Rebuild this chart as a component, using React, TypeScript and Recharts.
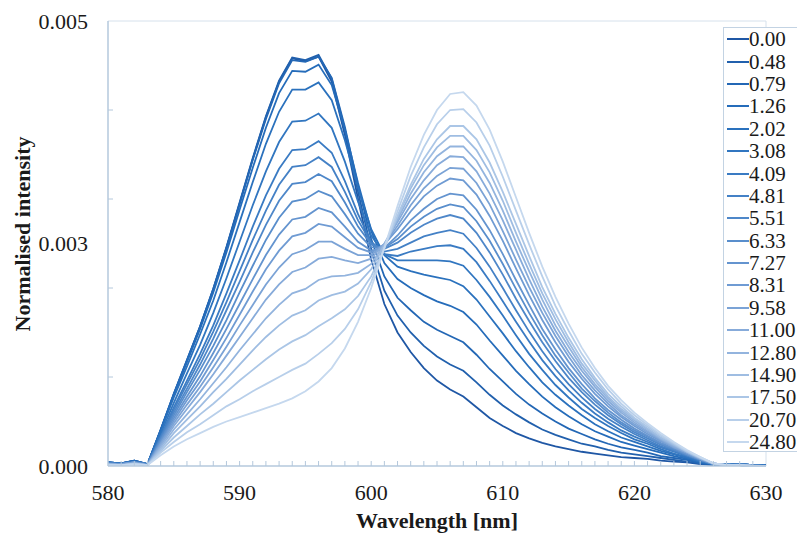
import React from 'react';
import { LineChart, Line, XAxis, YAxis, ReferenceLine } from 'recharts';

// Wavelength grid [nm]
const WAVELENGTHS = [
  580, 581, 582, 583, 584, 585, 586, 587, 588, 589, 590, 591, 592, 593, 594, 595, 596,
  597, 598, 599, 600, 601, 602, 603, 604, 605, 606, 607, 608, 609, 610, 611, 612, 613,
  614, 615, 616, 617, 618, 619, 620, 621, 622, 623, 624, 625, 626, 627, 628, 629, 630,
];

// Legend labels (one per series)
const LEGEND_LABELS = [
  '0.00', '0.48', '0.79', '1.26', '2.02', '3.08', '4.09', '4.81', '5.51', '6.33',
  '7.27', '8.31', '9.58', '11.00', '12.80', '14.90', '17.50', '20.70', '24.80',
];

// Intensities in units of 1e-5 (normalised intensity)
const INTENSITY_UNIT = 1e-5;
const I_0_00 = [4,3,6,2,40,80,118,156,198,245,295,345,392,432,458,455,460,432,372,300,232,182,150,128,110,96,86,78,66,54,45,37,31,26,22,19,16,14,12,10,9,8,6,5,4,2,1,1,2,1,1];
const I_0_48 = [4,3,6,2,40,81,119,157,199,246,296,346,393,433,459,456,462,435,378,308,244,197,169,150,135,123,114,107,94,80,68,58,49,41,35,30,25,22,18,15,13,11,9,7,5,3,1,1,2,1,1];
const I_0_79 = [4,3,6,2,41,81,119,157,199,245,294,344,390,430,456,454,460,436,381,315,255,213,189,175,162,153,146,139,125,109,95,81,69,59,50,42,36,30,25,21,18,15,11,9,7,3,2,1,2,1,1];
const I_1_26 = [4,3,6,2,40,80,117,154,195,240,288,335,380,419,444,443,451,428,378,318,264,228,210,200,192,185,180,173,159,141,124,107,92,78,66,56,47,39,33,27,23,19,15,11,8,4,2,2,2,1,1];
const I_2_02 = [4,3,5,2,39,77,112,148,186,229,274,319,362,398,423,423,431,411,366,313,266,237,224,219,215,212,209,202,187,168,149,129,111,94,80,68,57,47,39,32,27,22,17,13,9,5,2,1,2,1,1];
const I_3_08 = [4,3,5,2,36,71,104,136,172,211,252,293,331,364,387,388,396,380,342,297,259,238,231,231,231,231,230,225,209,190,169,147,126,108,91,77,64,54,45,37,30,25,19,14,10,5,2,1,2,1,1];
const I_4_09 = [3,3,5,2,33,66,96,126,158,194,231,269,304,334,355,356,365,352,320,283,252,238,236,241,244,247,248,244,229,208,185,162,140,119,101,85,71,59,49,40,33,27,21,16,11,6,2,1,2,1,0];
const I_4_81 = [3,2,5,2,32,63,92,120,151,184,219,254,287,316,336,338,347,336,308,276,251,241,244,251,258,262,265,261,245,224,200,175,151,129,109,92,77,64,53,44,36,29,22,17,12,6,2,1,2,1,0];
const I_5_51 = [3,2,4,2,31,60,87,114,143,175,207,240,271,298,317,319,328,320,296,269,249,244,251,262,271,278,282,278,262,240,215,188,163,139,118,99,83,69,57,47,38,31,24,18,12,7,2,1,2,1,0];
const I_6_33 = [3,2,4,2,29,57,83,108,135,164,195,225,254,279,297,300,309,303,283,261,246,245,255,269,280,289,294,291,275,253,227,199,172,147,124,105,87,73,60,49,40,33,25,19,13,7,2,1,1,1,0];
const I_7_27 = [3,2,4,1,28,54,78,101,127,154,182,210,237,260,277,280,290,285,269,252,242,245,259,276,289,300,306,304,288,265,238,209,181,154,131,110,92,76,63,52,42,34,26,20,13,7,2,1,1,0,0];
const I_8_31 = [2,2,4,1,26,51,74,95,119,144,170,196,221,242,258,262,272,269,257,245,240,249,266,286,303,315,323,321,305,281,253,222,192,164,139,117,98,81,67,55,45,36,28,21,14,8,2,1,1,0,0];
const I_9_58 = [2,2,4,1,25,48,69,89,111,134,158,181,204,223,238,243,252,252,244,237,237,249,270,293,312,326,335,334,318,294,264,232,201,172,146,123,102,85,70,57,47,38,29,21,15,8,3,1,1,0,0];
const I_11_00 = [2,1,3,1,23,45,64,83,103,124,145,166,187,204,218,223,233,235,231,228,233,250,274,300,321,338,348,347,331,306,276,243,210,179,152,128,107,89,73,60,49,39,30,22,15,8,3,1,1,0,0];
const I_12_80 = [2,1,3,1,21,41,58,75,93,111,130,148,166,181,194,199,209,213,214,217,227,249,277,306,330,348,359,359,343,318,287,252,219,187,158,134,111,92,76,62,51,41,31,23,16,9,3,1,1,0,0];
const I_14_90 = [2,1,3,1,19,37,52,67,83,98,114,130,145,158,169,175,186,192,196,205,221,248,280,312,338,358,371,371,355,330,298,262,227,194,165,139,115,96,78,64,53,42,32,24,16,9,3,1,1,0,0];
const I_17_50 = [1,1,2,1,17,32,45,58,70,83,96,108,120,131,140,147,157,166,176,191,213,245,281,316,345,367,382,382,367,341,308,272,236,201,171,144,120,99,81,67,54,44,34,25,16,9,3,1,1,0,0];
const I_20_70 = [1,1,2,1,15,27,38,47,57,67,75,84,92,100,108,115,126,138,154,176,207,245,286,326,358,384,400,401,386,360,325,287,249,213,180,152,126,105,86,70,57,46,35,26,17,10,3,1,1,0,0];
const I_24_80 = [1,1,2,1,12,22,30,37,44,50,55,60,65,70,76,84,95,110,132,162,200,245,292,336,372,400,418,420,405,378,342,302,262,224,190,160,133,110,90,74,60,48,37,27,18,10,3,1,1,0,0];

const SERIES = [
  I_0_00, I_0_48, I_0_79, I_1_26, I_2_02, I_3_08, I_4_09, I_4_81, I_5_51, I_6_33,
  I_7_27, I_8_31, I_9_58, I_11_00, I_12_80, I_14_90, I_17_50, I_20_70, I_24_80,
];

const SERIES_COLORS = [
  '#1f57a5', '#2160ad', '#2367b5', '#256cba', '#2a71bd', '#3176c0', '#3a7bc3',
  '#4481c6', '#4e87c9', '#598ecc', '#6494cf', '#6f9bd3', '#7ba3d6', '#87abda',
  '#93b4de', '#9fbde2', '#abc6e6', '#b8cfea', '#c5d8ee',
];

// Axis ticks
const X_MAJOR_TICKS = [580, 590, 600, 610, 620, 630];
const Y_LABEL_TICKS = [0, 0.0025, 0.005];
const Y_TICK_LABELS = ['0.000', '0.003', '0.005'];
const Y_MINOR_TICKS = [0.001, 0.002, 0.003, 0.004];
const Y_ALL_TICKS = [0, 0.001, 0.002, 0.0025, 0.003, 0.004, 0.005];

const FONT = '"Liberation Serif", "Times New Roman", serif';
const AXIS_COLOR = '#b4c8dc';
const BORDER_COLOR = '#d6e1ec';
const TEXT_COLOR = '#1a1a1a';

const data = WAVELENGTHS.map((nm, i) => {
  const row: Record<string, number> = { nm };
  SERIES.forEach((s, k) => {
    row['s' + k] = s[i] * INTENSITY_UNIT;
  });
  return row;
});

const XTick = (props: any) => {
  const { x, y, payload } = props;
  const v = payload.value;
  const isMajor = X_MAJOR_TICKS.indexOf(v) >= 0;
  return (
    <g>
      {v > 580 && v < 630 && (
        <line x1={x} x2={x} y1={y} y2={y - 5} stroke={AXIS_COLOR} strokeWidth={1} />
      )}
      {isMajor && (
        <text x={x} y={y + 34} textAnchor="middle" fontSize={22} fontFamily={FONT} fill={TEXT_COLOR}>
          {v}
        </text>
      )}
    </g>
  );
};

const YTick = (props: any) => {
  const { x, y, payload } = props;
  const v = payload.value;
  const li = Y_LABEL_TICKS.findIndex((t) => Math.abs(t - v) < 1e-9);
  const minor = Y_MINOR_TICKS.some((t) => Math.abs(t - v) < 1e-9);
  return (
    <g>
      {minor && <line x1={x} x2={x + 5} y1={y} y2={y} stroke={AXIS_COLOR} strokeWidth={1} />}
      {li >= 0 && (
        <text x={x - 20} y={y} dy="0.35em" textAnchor="end" fontSize={22} fontFamily={FONT} fill={TEXT_COLOR}>
          {Y_TICK_LABELS[li]}
        </text>
      )}
    </g>
  );
};

const YTitle = () => (
  <text
    x={14}
    y={226}
    transform="rotate(-90 14 226)"
    textAnchor="middle"
    dy="0.35em"
    fontSize={22}
    fontWeight="bold"
    fontFamily={FONT}
    fill={TEXT_COLOR}
  >
    Normalised intensity
  </text>
);

const XTitle = () => (
  <text x={429} y={520} textAnchor="middle" fontSize={22} fontWeight="bold" fontFamily={FONT} fill={TEXT_COLOR}>
    Wavelength [nm]
  </text>
);

export default function App() {
  return (
    <div
      style={{
        position: 'relative',
        width: 789,
        height: 529,
        overflow: 'hidden',
        background: '#fff',
      }}
    >
      <LineChart width={797} height={529} data={data} margin={{ top: 13, right: 39, bottom: 0, left: 0 }}>
        <XAxis
          dataKey="nm"
          type="number"
          domain={[580, 630]}
          ticks={WAVELENGTHS}
          interval={0}
          tick={XTick}
          tickLine={false}
          tickSize={0}
          tickMargin={0}
          axisLine={{ stroke: AXIS_COLOR, strokeWidth: 1.5 }}
          height={71}
          label={XTitle}
        />
        <YAxis
          type="number"
          domain={[0, 0.005]}
          ticks={Y_ALL_TICKS}
          interval={0}
          tick={YTick}
          tickLine={false}
          tickSize={0}
          tickMargin={0}
          axisLine={{ stroke: AXIS_COLOR, strokeWidth: 1.5 }}
          width={100}
          label={YTitle}
        />
        <ReferenceLine y={0.005} stroke={BORDER_COLOR} strokeWidth={1} />
        <ReferenceLine x={630} stroke={BORDER_COLOR} strokeWidth={1} />
        {SERIES.map((_, k) => (
          <Line
            key={k}
            type="linear"
            dataKey={'s' + k}
            stroke={SERIES_COLORS[k]}
            strokeWidth={1.8}
            dot={false}
            activeDot={false}
            isAnimationActive={false}
          />
        ))}
      </LineChart>
      <div
        style={{
          position: 'absolute',
          left: 715,
          top: 19,
          width: 90,
          height: 425,
          border: '1px solid #c3d3e3',
          background: '#fff',
          boxSizing: 'border-box',
        }}
      >
        {LEGEND_LABELS.map((lab, k) => (
          <div
            key={lab}
            style={{
              display: 'flex',
              alignItems: 'center',
              height: 22.4,
              lineHeight: '20px',
              fontFamily: FONT,
              fontSize: 21,
              color: TEXT_COLOR,
              whiteSpace: 'nowrap',
            }}
          >
            <svg width={25} height={6} style={{ flex: 'none' }}>
              <line x1={3} x2={25} y1={3} y2={3} stroke={SERIES_COLORS[k]} strokeWidth={2} />
            </svg>
            <span>{lab}</span>
          </div>
        ))}
      </div>
    </div>
  );
}
